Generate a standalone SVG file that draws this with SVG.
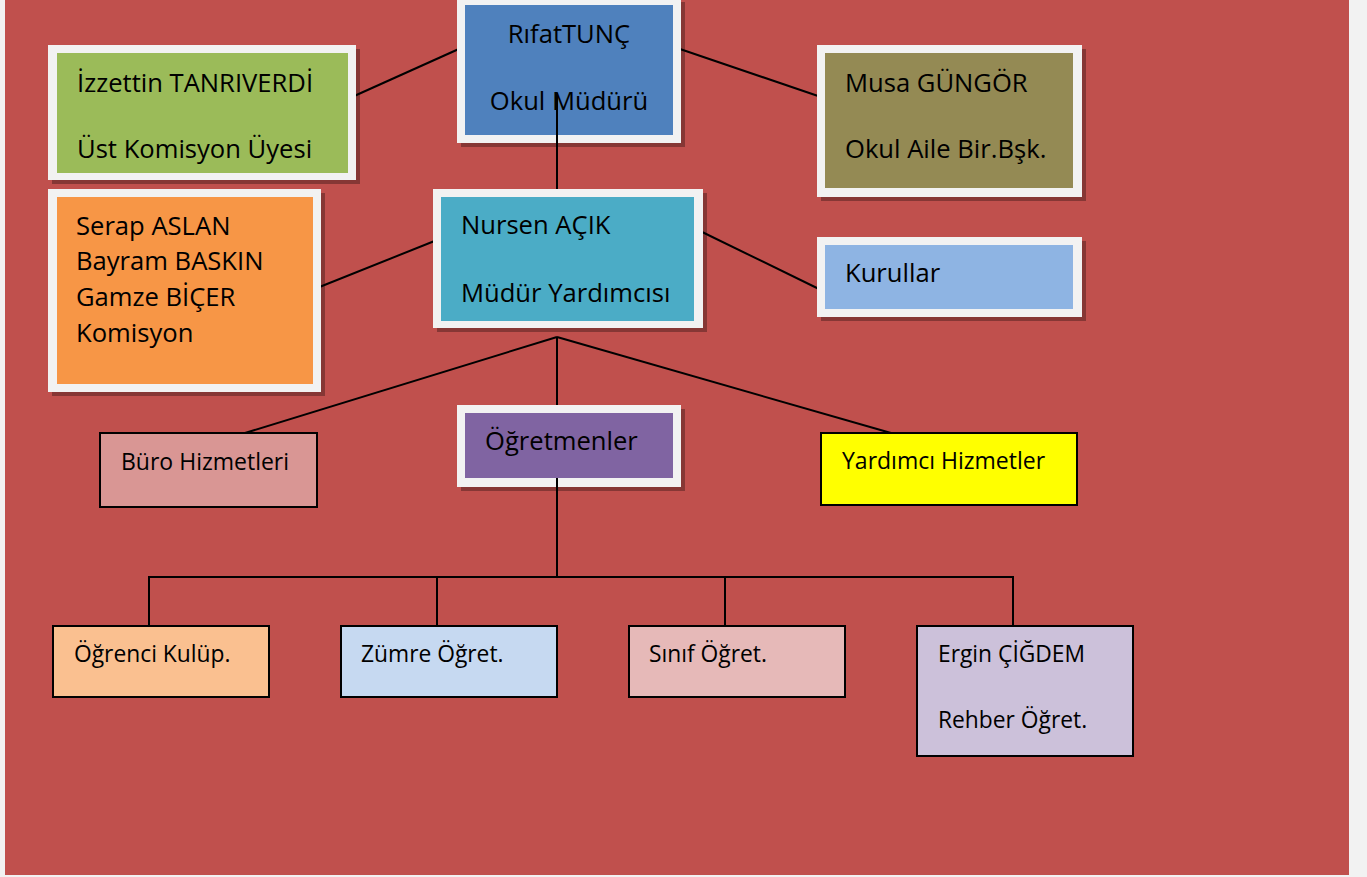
<svg xmlns="http://www.w3.org/2000/svg" width="1367" height="877" viewBox="0 0 1367 877">
<style>
text{font-family:"Open Sans","Noto Sans",sans-serif;fill:#000}
.lg{font-size:25.6px}
.md{font-size:23px}
.sm{font-size:22.8px}
.frame{fill:#f2f2f2}
.shadow{fill:#000;opacity:0.3}
.plain{stroke:#000;stroke-width:2}
.conn line{stroke:#000;stroke-width:2}
</style>
<rect x="0" y="0" width="1367" height="877" fill="#f2f2f2"/>
<rect x="5" y="0" width="1344" height="875" fill="#C0504D"/>

<g id="connectors" class="conn">
<line x1="352" y1="97" x2="461" y2="48"/>
<line x1="677" y1="48" x2="821" y2="97"/>
<line x1="557" y1="93" x2="557" y2="193"/>
<line x1="437" y1="240" x2="317" y2="288"/>
<line x1="698" y1="230" x2="821" y2="290"/>
<line x1="557" y1="337" x2="245" y2="433"/>
<line x1="557" y1="337" x2="557" y2="409"/>
<line x1="557" y1="337" x2="891" y2="433"/>
<line x1="557" y1="483" x2="557" y2="577"/>
<line x1="148" y1="577" x2="1014" y2="577"/>
<line x1="149" y1="576" x2="149" y2="627"/>
<line x1="437" y1="576" x2="437" y2="627"/>
<line x1="725" y1="576" x2="725" y2="627"/>
<line x1="1013" y1="576" x2="1013" y2="627"/>
</g>

<g id="node-rifat">
<rect class="shadow" x="461" y="2" width="224" height="145"/>
<rect class="frame" x="457" y="-3" width="224" height="146"/>
<rect x="465" y="5" width="208" height="130" fill="#4F81BD"/>
<line x1="557" y1="93" x2="557" y2="143" stroke="#000" stroke-width="2"/>
<text class="lg" x="569" y="43" text-anchor="middle">RıfatTUNÇ</text>
<text class="lg" x="569" y="110" text-anchor="middle">Okul Müdürü</text>
</g>

<g id="node-izzettin">
<rect class="shadow" x="52" y="49" width="308" height="135"/>
<rect class="frame" x="48" y="45" width="308" height="135"/>
<rect x="57" y="53" width="291" height="120" fill="#9BBB59"/>
<text class="lg" x="77" y="92">İzzettin TANRIVERDİ</text>
<text class="lg" x="77" y="158">Üst Komisyon Üyesi</text>
</g>

<g id="node-komisyon">
<rect class="shadow" x="52" y="193" width="273" height="203"/>
<rect class="frame" x="48" y="189" width="273" height="203"/>
<rect x="57" y="197" width="256" height="187" fill="#F79646"/>
<text class="lg" x="76" y="235">Serap ASLAN</text>
<text class="lg" x="76" y="270">Bayram BASKIN</text>
<text class="lg" x="76" y="306">Gamze BİÇER</text>
<text class="lg" x="76" y="342">Komisyon</text>
</g>

<g id="node-nursen">
<rect class="shadow" x="437" y="193" width="270" height="139"/>
<rect class="frame" x="433" y="189" width="270" height="139"/>
<rect x="441" y="197" width="253" height="124" fill="#4BACC6"/>
<text class="lg" x="461" y="234">Nursen AÇIK</text>
<text class="lg" x="461" y="302">Müdür Yardımcısı</text>
</g>

<g id="node-musa">
<rect class="shadow" x="821" y="49" width="265" height="152"/>
<rect class="frame" x="817" y="45" width="265" height="152"/>
<rect x="825" y="53" width="248" height="135" fill="#948A54"/>
<text class="lg" x="845" y="92">Musa GÜNGÖR</text>
<text class="lg" x="845" y="158">Okul Aile Bir.Bşk.</text>
</g>

<g id="node-kurullar">
<rect class="shadow" x="821" y="241" width="265" height="80"/>
<rect class="frame" x="817" y="237" width="265" height="80"/>
<rect x="825" y="245" width="248" height="64" fill="#8EB4E3"/>
<text class="lg" x="845" y="282">Kurullar</text>
</g>

<g id="node-ogretmenler">
<rect class="shadow" x="461" y="409" width="224" height="82"/>
<rect class="frame" x="457" y="405" width="224" height="82"/>
<rect x="465" y="413" width="208" height="65" fill="#8064A2"/>
<line x1="557" y1="478" x2="557" y2="487" stroke="#000" stroke-width="2"/>
<text class="lg" x="485" y="450">Öğretmenler</text>
</g>

<g id="node-buro">
<rect class="plain" x="100" y="433" width="217" height="74" fill="#D99694"/>
<text class="md" x="121" y="470">Büro Hizmetleri</text>
</g>

<g id="node-yardimci">
<rect class="plain" x="821" y="433" width="256" height="72" fill="#FFFF00"/>
<text class="md" x="842" y="469">Yardımcı Hizmetler</text>
</g>

<g id="node-ogrenci">
<rect class="plain" x="53" y="626" width="216" height="71" fill="#FAC090"/>
<text class="sm" x="74" y="662">Öğrenci Kulüp.</text>
</g>

<g id="node-zumre">
<rect class="plain" x="341" y="626" width="216" height="71" fill="#C6D9F1"/>
<text class="sm" x="361" y="662">Zümre Öğret.</text>
</g>

<g id="node-sinif">
<rect class="plain" x="629" y="626" width="216" height="71" fill="#E6B9B8"/>
<text class="sm" x="649" y="662">Sınıf Öğret.</text>
</g>

<g id="node-ergin">
<rect class="plain" x="917" y="626" width="216" height="130" fill="#CCC1DA"/>
<text class="sm" x="938" y="662">Ergin ÇİĞDEM</text>
<text class="sm" x="938" y="728">Rehber Öğret.</text>
</g>
</svg>
